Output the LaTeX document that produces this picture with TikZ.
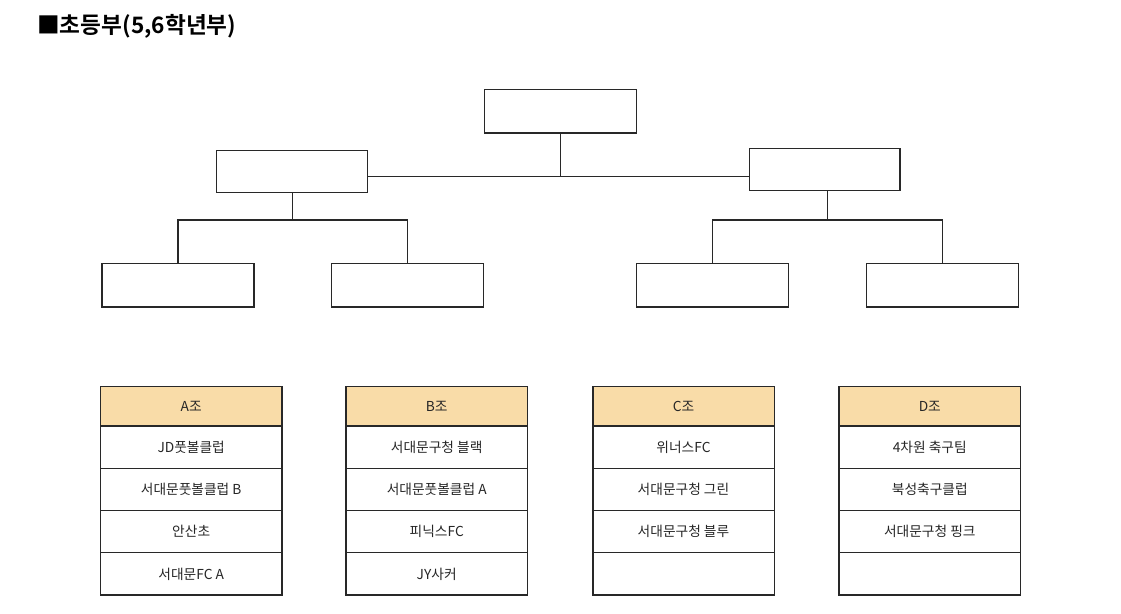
\documentclass[tikz,border=0pt]{standalone}
\usepackage{fontspec}
\newfontfamily\kr{Noto Sans CJK KR}
\newfontfamily\krb{Noto Sans CJK KR Bold}
\definecolor{hdr}{RGB}{249,220,168}
\definecolor{ln}{RGB}{40,40,40}
\tikzset{
  box/.style={draw=ln, line width=1pt, inner sep=0pt, outer sep=0pt, fill=white},
  bigbox/.style={box, minimum width=114pt, minimum height=32.5pt},
  midbox/.style={box, minimum width=113pt, minimum height=31.5pt},
  conn/.style={draw=ln, line width=1pt},
  cell/.style={draw=ln, line width=1pt, inner sep=0pt, outer sep=0pt, minimum width=136pt, minimum height=31.7pt, font=\kr\fontsize{10.3pt}{12pt}\selectfont, text=black!85},
  hcell/.style={cell, fill=hdr, minimum height=29.4pt},
}
\begin{document}
\begin{tikzpicture}[x=0.75pt,y=-0.75pt]
\useasboundingbox (0,0) rectangle (1121,614);
\fill[white] (0,0) rectangle (1121,614);
% title
\node[anchor=west, inner sep=0pt, font=\krb\fontsize{17pt}{20pt}\selectfont] (title) at (37,26) {■초등부(5,6학년부)};
% bracket boxes
\node[bigbox] (top) at (560.3,111.3) {};
\node[midbox] (left) at (292,171.3) {};
\node[midbox] (right) at (824.5,169.3) {};
\node[bigbox] (b1) at (178,285.2) {};
\node[bigbox] (b2) at (407.5,285.2) {};
\node[bigbox] (b3) at (712.8,285.2) {};
\node[bigbox] (b4) at (942.5,285.2) {};
\coordinate (hub) at (560.3,176.7);
\coordinate (lhub) at (292.7,220);
\coordinate (rhub) at (827.7,220);
\draw[conn] (top.south) -- (hub);
\draw[conn] (left.east |- hub) -- (right.west |- hub);
\draw[conn] (left.south -| lhub) -- (lhub);
\draw[conn] (b1.north) -- (b1.north |- lhub) -- (b2.north |- lhub) -- (b2.north);
\draw[conn] (right.south -| rhub) -- (rhub);
\draw[conn] (b3.north) -- (b3.north |- rhub) -- (b4.north |- rhub) -- (b4.north);
% tables
\node[hcell] (A0) at (191.2,406.3) {A조};
\node[cell] (A1) at (191.2,447.1) {JD풋볼클럽};
\node[cell] (A2) at (191.2,489.4) {서대문풋볼클럽 B};
\node[cell] (A3) at (191.2,531.6) {안산초};
\node[cell] (A4) at (191.2,573.9) {서대문FC A};
\node[hcell] (B0) at (436.7,406.3) {B조};
\node[cell] (B1) at (436.7,447.1) {서대문구청 블랙};
\node[cell] (B2) at (436.7,489.4) {서대문풋볼클럽 A};
\node[cell] (B3) at (436.7,531.6) {피닉스FC};
\node[cell] (B4) at (436.7,573.9) {JY사커};
\node[hcell] (C0) at (683.5,406.3) {C조};
\node[cell] (C1) at (683.5,447.1) {위너스FC};
\node[cell] (C2) at (683.5,489.4) {서대문구청 그린};
\node[cell] (C3) at (683.5,531.6) {서대문구청 블루};
\node[cell] (C4) at (683.5,573.9) {};
\node[hcell] (D0) at (929.8,406.3) {D조};
\node[cell] (D1) at (929.8,447.1) {4차원 축구팀};
\node[cell] (D2) at (929.8,489.4) {북성축구클럽};
\node[cell] (D3) at (929.8,531.6) {서대문구청 핑크};
\node[cell] (D4) at (929.8,573.9) {};
\end{tikzpicture}
\end{document}
